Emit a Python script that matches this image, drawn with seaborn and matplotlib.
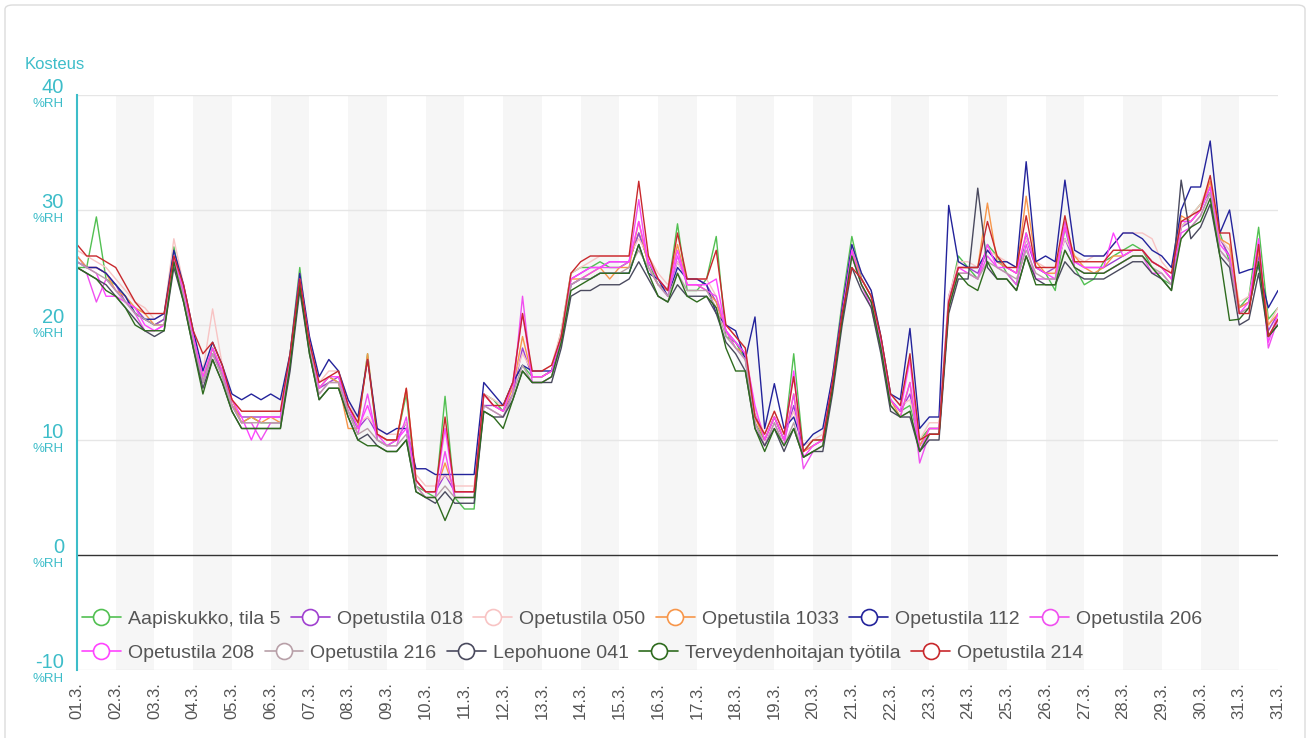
import numpy as np
import pandas as pd
import matplotlib
matplotlib.use("Agg")
import matplotlib.pyplot as plt
import matplotlib.dates as mdates
import matplotlib.transforms as mtransforms
from matplotlib.lines import Line2D
from matplotlib.patches import FancyBboxPatch
import seaborn as sns

# ---------------- data (6-hour readings, 01.3. 00:00 -> 01.4. 00:00) ----------------
series_names = ["Aapiskukko, tila 5", "Opetustila 018", "Opetustila 050", "Opetustila 1033",
                "Opetustila 112", "Opetustila 206", "Opetustila 208", "Opetustila 216",
                "Lepohuone 041", "Terveydenhoitajan työtila", "Opetustila 214"]
series_colors = ["#52c052", "#a040d0", "#f8c4c4", "#f7964a", "#23239b", "#f04ff0",
                 "#ff44ff", "#b8a0a8", "#4a4a5e", "#2e6b1e", "#c8282c"]

aapiskukko = [25, 25, 29.4, 24, 23.5, 22.5, 21, 20.5,
              20, 20.5, 26.8, 22.5, 18.5, 15, 18, 15.5,
              13, 11.5, 12, 11.5, 11.5, 11.5, 17.5, 25,
              18, 14.5, 15.5, 15, 12.5, 11, 17.5, 10,
              9.5, 10, 14, 6, 5.5, 5, 13.8, 5,
              4, 4, 14, 13.5, 12.5, 15, 16.5, 15.5,
              15.5, 16, 19.5, 24.5, 25, 25, 25.5, 25,
              25, 25.5, 28, 25.5, 23.5, 23, 28.8, 23,
              23, 24, 27.7, 19, 18.5, 17, 11.5, 10,
              12, 10, 17.5, 9, 10, 10, 15.5, 22,
              27.7, 24, 22.5, 18.5, 13.5, 12.5, 13, 10,
              11, 11, 22, 26, 25, 24, 27, 26,
              24.5, 23.5, 28, 25, 24.5, 23, 28.5, 25,
              23.5, 24, 25.5, 26, 26.5, 27, 26.5, 25,
              24, 23.5, 28.5, 29.5, 30.5, 31.5, 28, 25.5,
              21.5, 22.5, 28.5, 20.5, 21.5]
opetus_018 = [26, 25, 25, 24.5, 23.5, 22, 21.5, 20.5,
              20, 20.5, 26, 23, 19, 15, 17.5, 16,
              13, 12, 12, 12, 12, 12, 17, 24,
              18.5, 14.5, 15, 15.5, 13, 11, 12, 10.5,
              10, 10, 11.5, 6.5, 5.5, 5.5, 7, 5.5,
              5.5, 5.5, 13, 13, 12.5, 14, 18, 15.5,
              15.5, 16, 19, 24, 24.5, 25, 25, 25.5,
              25.5, 25.5, 28, 25.5, 24, 23, 25.5, 24,
              24, 23.5, 22, 19.5, 18.5, 17.5, 12.5, 10,
              12, 10, 13, 9, 9.5, 10, 15, 21,
              26.5, 24, 22.5, 18.5, 13.5, 12.5, 14, 9.5,
              11, 11, 22.5, 25, 25, 24.5, 26.5, 25.5,
              25, 24.5, 27.5, 25, 24.5, 25, 27.5, 25.5,
              25, 25, 25, 25.5, 26, 26.5, 26.5, 25.5,
              25, 24, 28.5, 29, 30, 32, 27.5, 26,
              21.5, 22, 26, 19.5, 21]
opetus_050 = [26.5, 26, 25.5, 25, 24, 23, 22, 21.5,
              20.5, 21, 27.5, 23.5, 19.5, 16, 21.4, 16.5,
              13.5, 12.5, 12.5, 12.5, 12.5, 12.5, 17.5, 24.5,
              19, 15, 16, 16, 13.5, 11.5, 12, 11,
              10.5, 10.5, 11.5, 7, 6, 6, 7, 6,
              6, 6, 14, 13.5, 13, 15, 17.5, 16,
              16, 16.5, 19.5, 24.5, 25, 25.5, 26, 26,
              26, 26, 27.5, 26, 24.5, 23.5, 25.5, 24,
              24, 24, 22.5, 20, 19, 18, 12.5, 10.5,
              12.5, 10.5, 12.5, 9.5, 10, 10.5, 15.5, 21.5,
              27, 24.5, 23, 19, 14, 13, 13.5, 10,
              11.5, 11.5, 22.5, 25.5, 25.5, 25, 26.5, 26,
              25.5, 25, 27.5, 25.5, 25, 25, 27.5, 26,
              25.5, 26, 26, 27, 28, 28, 28, 27.5,
              25.5, 24.5, 28.5, 29.5, 30.5, 32.5, 27.5, 26.5,
              22, 22.5, 26.5, 20, 21.5]
opetus_1033 = [26, 25, 25, 24.5, 23, 22.5, 21.5, 21,
               20, 20, 26, 23, 19, 15.5, 18, 16,
               13.5, 11.5, 12, 11.5, 12, 11.5, 17, 24,
               18, 14.5, 15.5, 15, 11, 11, 17.5, 10.5,
               10, 10, 14.5, 6.5, 5.5, 5.5, 8, 5.5,
               5.5, 5.5, 14, 13, 12.5, 14.5, 19, 15.5,
               15.5, 16, 19, 24, 24, 24.5, 25, 24,
               25, 25, 29, 25, 23.5, 23, 27, 23.5,
               23.5, 23, 22, 19.5, 18, 17.5, 12, 10,
               12, 10, 14, 9, 9.5, 10, 15, 21,
               26.5, 24, 22.5, 18.5, 13.5, 12, 15, 9.5,
               11, 11, 22, 25, 25, 25, 30.6, 25.5,
               25, 24.5, 31.2, 25.5, 24.5, 24.5, 28.5, 26,
               25, 24.5, 25, 26, 26, 26.5, 26.5, 25.5,
               25, 24, 29.5, 29, 30, 32.5, 27.5, 27,
               21.5, 22, 26.5, 20, 21]
opetus_112 = [25.5, 25, 25, 24.5, 23.5, 22.5, 21, 20.5,
              20.5, 21, 26.5, 23.5, 19.5, 16, 18.5, 16.5,
              14, 13.5, 14, 13.5, 14, 13.5, 17.5, 24.5,
              19, 15.5, 17, 16, 13.5, 12, 17, 11,
              10.5, 11, 11, 7.5, 7.5, 7, 7, 7,
              7, 7, 15, 14, 13, 15, 16.5, 16,
              16, 16, 18.5, 23.5, 24, 24, 24.5, 24.5,
              24.5, 24.5, 27, 24.5, 24, 22.5, 25, 24,
              24, 23.5, 21, 20, 19.5, 17, 20.7, 11,
              14.9, 11, 12, 9.5, 10.5, 11, 15.5, 21.5,
              27, 24.5, 23, 19, 14, 13.5, 19.7, 11,
              12, 12, 30.4, 25.5, 25, 25, 26.5, 25.5,
              25.5, 25, 34.2, 25.5, 26, 25.5, 32.6, 26.5,
              26, 26, 26, 27, 28, 28, 27.5, 26.5,
              26, 25, 30, 32, 32, 36, 28, 30,
              24.5, 24.8, 25, 21.5, 23]
opetus_206 = [25, 24.5, 22, 24, 23, 22, 21, 19.5,
              19.5, 20, 25.5, 22.5, 18.5, 15, 17.5, 15.5,
              13, 11.5, 11.5, 10, 11.5, 11.5, 16.5, 23.5,
              18, 14, 15, 15, 12.5, 10.5, 14, 10,
              9.5, 9.5, 12, 6, 5, 5, 9, 5,
              5, 5, 13, 12.5, 12, 14, 22.5, 15,
              15, 15.5, 18.5, 23.5, 24, 24.5, 25, 25,
              25, 25.5, 30.9, 25, 23.5, 22.5, 26, 23.5,
              23.5, 23, 22.5, 19.5, 18, 17, 11.5, 9.5,
              11.5, 9.5, 14, 7.5, 9, 9.5, 14.5, 20.5,
              26, 23.5, 21.5, 18, 13, 12, 15, 8,
              10.5, 10.5, 21.5, 24.5, 24.5, 24, 26, 25,
              24.5, 23.5, 27, 24, 24, 24, 29, 25,
              24.5, 24.5, 24.5, 25, 25.5, 26, 26, 24.5,
              24.5, 23.5, 28, 28.5, 29.5, 31.5, 26.5, 25.5,
              21, 21.5, 27, 18, 20.5]
opetus_208 = [25.5, 25, 24.5, 22.5, 22.5, 22, 21.5, 20,
              19.5, 20, 26, 23, 19, 15.5, 18, 16,
              13.5, 12, 10, 12, 12, 12, 17, 24,
              18.5, 14.5, 15.5, 15.5, 13, 11, 13, 10.5,
              9.5, 10, 11, 6.5, 5.5, 5.5, 11, 5.5,
              5.5, 5.5, 14, 13, 12.5, 15, 21, 15.5,
              15.5, 16, 19, 24, 24.5, 25, 25, 25.5,
              25.5, 25.5, 29, 25.5, 24, 23, 26.5, 23.5,
              23.5, 23.5, 24, 19.5, 18.5, 17.5, 13, 10,
              12, 10, 16, 8.5, 9.5, 10, 15, 21,
              26.5, 23.5, 22, 18.5, 13.5, 12.5, 17, 9,
              11, 11, 22, 25, 24.5, 24, 27, 25,
              25, 24.5, 28, 25, 24.5, 24, 28.5, 25.5,
              25, 25, 25, 28, 26, 26.5, 26.5, 25.5,
              25, 24, 29, 29, 30, 32, 27, 26,
              21, 22, 27.5, 18.5, 21]
opetus_216 = [25.5, 25, 24.5, 24, 23, 22, 21, 20.5,
              20, 20, 25.5, 22.5, 18.5, 15, 17.5, 15.5,
              13, 11.5, 11.5, 11.5, 11.5, 11.5, 16.5, 23.5,
              18, 14, 15, 15, 12.5, 10.5, 11, 10,
              9.5, 9.5, 10.5, 6, 5, 5, 6, 5,
              5, 5, 13, 12.5, 12, 14, 16.5, 15,
              15, 15.5, 18.5, 23.5, 24, 24, 24.5, 24.5,
              24.5, 25, 26.5, 25, 23.5, 22.5, 24.5, 23,
              23, 23, 21.5, 19, 18, 17, 11.5, 9.5,
              11.5, 9.5, 11.5, 8.5, 9, 9.5, 14.5, 20.5,
              26, 23.5, 22, 18, 13, 12, 12.5, 9,
              10.5, 10.5, 21.5, 24.5, 24.5, 24, 25.5, 25,
              24.5, 24, 26.5, 24.5, 24, 24, 26.5, 25,
              24.5, 24.5, 24.5, 25, 25.5, 26, 26, 25,
              24.5, 23.5, 27.5, 28.5, 29.5, 31.5, 26.5, 25.5,
              21, 21.5, 25.5, 19, 20.5]
lepohuone_041 = [25, 24.5, 24, 23.5, 22.5, 21.5, 20.5, 19.5,
                 19, 19.5, 25, 22, 18, 14.5, 17, 15,
                 12.5, 11, 11, 11, 11, 11, 16, 23,
                 17.5, 13.5, 14.5, 14.5, 12, 10, 10.5, 9.5,
                 9, 9, 10, 5.5, 5, 4.5, 5.5, 4.5,
                 4.5, 4.5, 12.5, 12, 12, 13.5, 16, 15,
                 15, 15, 18, 22.5, 23, 23, 23.5, 23.5,
                 23.5, 24, 25.5, 24, 22.5, 22, 23.5, 22.5,
                 22.5, 22.5, 21, 18.5, 17.5, 16, 11, 9.5,
                 11, 9, 11, 8.5, 9, 9, 14, 20,
                 25, 23, 21.5, 17.5, 12.5, 12, 12, 9,
                 10, 10, 21, 24, 24, 31.9, 25, 24,
                 24, 23, 26, 24, 23.5, 23.5, 25.5, 24.5,
                 24, 24, 24, 24.5, 25, 25.5, 25.5, 24.5,
                 24, 23, 32.6, 27.5, 28.5, 30.5, 26, 25,
                 20, 20.5, 24.5, 19, 20]
terveydenhoitaja = [25, 24.5, 24, 23, 22.5, 21.5, 20, 19.5,
                    19.5, 19.5, 25.5, 22, 18, 14, 17, 15,
                    12.5, 11, 11, 11, 11, 11, 16.5, 23.5,
                    17.5, 13.5, 14.5, 14.5, 12, 10, 9.5, 9.5,
                    9, 9, 10, 5.5, 5, 5, 3, 5,
                    5, 5, 12.5, 12, 11, 13.5, 16, 15,
                    15, 15.5, 18.5, 23, 23.5, 24, 24.5, 24.5,
                    24.5, 24.5, 27, 24.5, 22.5, 22, 24.5, 22.5,
                    22, 22.5, 21.5, 18, 16, 16, 11, 9,
                    11, 9.5, 11, 8.5, 9, 9.5, 14.5, 20.5,
                    26, 23.5, 22, 18, 13, 12, 12.5, 9,
                    10.5, 10.5, 21.5, 24.5, 23.5, 23, 25.5, 24,
                    24, 23, 26, 23.5, 23.5, 23.5, 26.5, 25,
                    24.5, 24.5, 24.5, 25, 25.5, 26, 26, 25,
                    24, 23, 27.5, 28.5, 29, 31, 26, 20.4,
                    20.5, 21.5, 25.5, 19, 20]
opetus_214 = [27, 26, 26, 25.5, 25, 23.5, 22, 21,
              21, 21, 26, 23.5, 19.5, 17.5, 18.5, 16.5,
              13.5, 12.5, 12.5, 12.5, 12.5, 12.5, 17.5, 24,
              18.5, 15, 15.5, 16, 13, 11.5, 17, 10.5,
              10, 10, 14.5, 6.5, 5.5, 5.5, 12, 5.5,
              5.5, 5.5, 14, 13, 13, 15, 21, 16,
              16, 16.5, 19, 24.5, 25.5, 26, 26, 26,
              26, 26, 32.5, 26, 24, 23, 28, 24,
              24, 24, 26.5, 20, 19, 18, 12, 10.5,
              12.5, 10.5, 15.5, 9, 10, 10, 15, 21,
              25, 24, 22.5, 19, 14, 13, 17.5, 10,
              10.5, 10.5, 22, 25, 25, 25, 29, 26,
              25, 25, 29.5, 25, 25, 25, 29.5, 25.5,
              25.5, 25.5, 25.5, 26.5, 26.5, 26.5, 26.5, 25.5,
              25, 24.5, 29, 29.5, 30, 33, 28, 28,
              21, 21, 27, 19, 20.5]

series_values = [aapiskukko, opetus_018, opetus_050, opetus_1033, opetus_112, opetus_206,
                 opetus_208, opetus_216, lepohuone_041, terveydenhoitaja, opetus_214]

y_ticks = [-10, 0, 10, 20, 30, 40]
x_tick_labels = [f"{d:02d}.3." for d in range(1, 32)] + ["31.3."]

# ---------------- build long table ----------------
frames = []
for name, vals in zip(series_names, series_values):
    t = pd.date_range("2021-03-01", periods=len(vals), freq="6h")
    frames.append(pd.DataFrame({"time": t, "value": vals, "series": name}))
df = pd.concat(frames, ignore_index=True)

sns.set_theme(style="white")
plt.rcParams["font.family"] = ["Liberation Sans", "DejaVu Sans"]

W, H = 1308, 738
fig = plt.figure(figsize=(W / 100, H / 100), dpi=100)
ax = fig.add_axes([77 / W, 1 - 670 / H, (1278 - 77) / W, (670 - 95) / H])

teal = "#3dbdc9"

# alternating day bands
for d in range(2, 31, 2):
    s = pd.Timestamp(2021, 3, d)
    ax.axvspan(mdates.date2num(s), mdates.date2num(s + pd.Timedelta(days=1)),
               color="#f6f6f6", lw=0, zorder=0)

for yv in [-10, 10, 20, 30, 40]:
    ax.axhline(yv, color="#e6e6e6", lw=1, zorder=0.5)
ax.axhline(0, color="#333333", lw=1, zorder=0.6)

palette = dict(zip(series_names, series_colors))
sns.lineplot(data=df, x="time", y="value", hue="series", hue_order=series_names,
             palette=palette, estimator=None, legend=False, linewidth=1.0, ax=ax)

ax.set_xlim(mdates.date2num(pd.Timestamp(2021, 3, 1)), mdates.date2num(pd.Timestamp(2021, 4, 1)))
ax.set_ylim(-10, 40)
ax.set_xlabel("")
ax.set_ylabel("")
ax.grid(False)

xt = [mdates.date2num(x) for x in pd.date_range("2021-03-01", "2021-04-01", freq="D")]
ax.set_xticks(xt)
ax.set_xticklabels(x_tick_labels, rotation=90, fontsize=12, color="#555555")
ax.tick_params(axis="x", length=0, pad=9)

ax.set_yticks(y_ticks)
ax.set_yticklabels([])
ax.tick_params(axis="y", length=10, width=1.5, color=teal, direction="out")

for sp in ["top", "right", "bottom"]:
    ax.spines[sp].set_visible(False)
ax.spines["left"].set_color(teal)
ax.spines["left"].set_linewidth(1.5)

num_tr = mtransforms.offset_copy(ax.get_yaxis_transform(), fig=fig, x=-13, y=2, units="dots")
unit_tr = mtransforms.offset_copy(ax.get_yaxis_transform(), fig=fig, x=-13, y=-3, units="dots")
for v in y_ticks:
    ax.text(0, v, str(v), transform=num_tr, ha="right", va="baseline", fontsize=14.5, color=teal)
    ax.text(0, v, "%RH", transform=unit_tr, ha="right", va="top", fontsize=9.5, color=teal)

fig.text(25 / W, 1 - 69 / H, "Kosteus", fontsize=12, color=teal, ha="left", va="baseline")

# legends (two rows)
handles = [Line2D([], [], color=c, lw=1.2, marker="o", markersize=11.5,
                  markerfacecolor="white", markeredgewidth=1.2) for c in series_colors]
rows = [(0, 6, 619), (6, 11, 653)]
legs = []
for a, b, yc in rows:
    leg = ax.legend(handles[a:b], series_names[a:b], loc="center left",
                    bbox_to_anchor=(82 / W, 1 - yc / H), bbox_transform=fig.transFigure,
                    ncol=b - a, frameon=False, fontsize=14, handlelength=2.0,
                    handletextpad=0.35, columnspacing=0.55, borderpad=0, borderaxespad=0)
    for txt in leg.get_texts():
        txt.set_color("#555555")
    legs.append(leg)
for leg in legs[:-1]:
    ax.add_artist(leg)

# card border
card = FancyBboxPatch((5 / W, -0.05), 1300 / W, 1.05 - 5 / H,
                      boxstyle="round,pad=0,rounding_size=0.006",
                      transform=fig.transFigure, fc="none", ec="#dcdcdc", lw=1)
fig.patches.append(card)

fig.savefig("out.png", dpi=100)
